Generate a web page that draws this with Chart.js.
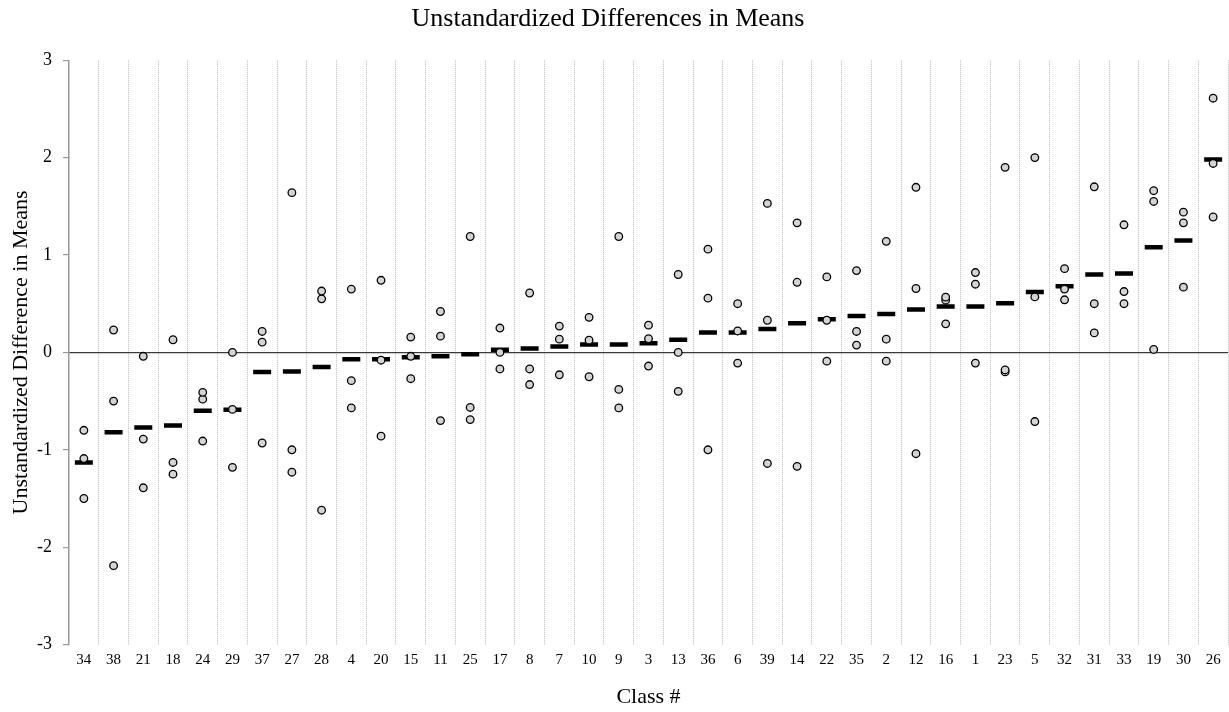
<!DOCTYPE html>
<html>
<head>
<meta charset="utf-8">
<script src="https://cdn.jsdelivr.net/npm/chart.js@4/dist/chart.umd.min.js"></script>
<style>
  html, body { margin: 0; padding: 0; background: #fff; }
  #wrap { width: 1229px; height: 712px; }
</style>
</head>
<body>
<div id="wrap"><canvas id="c" width="1229" height="712"></canvas></div>
<script>
// Classes, ordered by mean difference
const classes = ['34','38','21','18','24','29','37','27','28','4','20','15','11','25','17','8','7','10','9','3','13','36','6','39','14','22','35','2','12','16','1','23','5','32','31','33','19','30','26'];

// Mean unstandardized difference per class (black dash)
const meanDiff = [-1.13,-0.82,-0.77,-0.75,-0.60,-0.59,-0.20,-0.195,-0.15,-0.07,-0.07,-0.05,-0.04,-0.02,0.027,0.04,0.06,0.08,0.08,0.095,0.13,0.205,0.205,0.24,0.30,0.34,0.375,0.395,0.44,0.47,0.47,0.505,0.62,0.68,0.80,0.81,1.08,1.15,1.98];

// Individual differences per class (circles): highest, middle, lowest
const diffHigh = [-0.80,0.23,-0.04,0.13,-0.41,0.00,0.215,1.64,0.63,0.65,0.74,0.157,0.42,1.19,0.25,0.61,0.27,0.36,1.19,0.28,0.80,1.06,0.50,1.53,1.33,0.775,0.84,1.14,1.695,0.567,0.82,1.90,2.00,0.86,1.70,1.31,1.66,1.44,2.61];
const diffMid  = [-1.09,-0.50,-0.89,-1.13,-0.48,-0.585,0.105,-1.00,0.55,-0.29,-0.08,-0.04,0.167,-0.565,0.00,-0.17,0.136,0.126,-0.38,0.14,0.00,0.557,0.22,0.33,0.72,0.33,0.215,0.136,0.656,0.536,0.70,-0.18,0.57,0.65,0.50,0.625,1.55,1.33,1.94];
const diffLow  = [-1.50,-2.19,-1.39,-1.25,-0.91,-1.18,-0.93,-1.23,-1.62,-0.57,-0.86,-0.27,-0.70,-0.69,-0.17,-0.33,-0.23,-0.25,-0.57,-0.14,-0.40,-1.00,-0.11,-1.14,-1.17,-0.09,0.075,-0.09,-1.04,0.293,-0.11,-0.20,-0.71,0.54,0.20,0.50,0.03,0.67,1.39];

const yTicks = [-3,-2,-1,0,1,2,3];

const serif = "'Liberation Serif', 'Times New Roman', serif";

function circleSet(label, data) {
  return {
    label, data,
    showLine: false,
    pointStyle: 'circle',
    pointRadius: 3.8,
    pointHoverRadius: 3.8,
    pointBackgroundColor: '#d4d4d4',
    pointBorderColor: '#000',
    pointBorderWidth: 1.3,
    order: 1
  };
}

// Centre the chart title over the page area rather than the padded box
const titleShift = {
  id: 'titleShift',
  afterLayout(chart) {
    if (chart.titleBlock) {
      chart.titleBlock.right -= 20;
    }
  }
};

new Chart(document.getElementById('c'), {
  type: 'line',
  data: {
    labels: classes,
    datasets: [
      {
        label: 'Mean',
        data: meanDiff,
        showLine: false,
        pointStyle: 'line',
        pointRadius: 9,
        pointHoverRadius: 9,
        pointBorderColor: '#000',
        pointBackgroundColor: '#000',
        pointBorderWidth: 4.5,
        order: 2
      },
      circleSet('High', diffHigh),
      circleSet('Middle', diffMid),
      circleSet('Low', diffLow)
    ]
  },
  plugins: [titleShift],
  options: {
    responsive: false,
    animation: false,
    events: [],
    layout: { autoPadding: false, padding: { left: 8, right: 1, top: 0, bottom: 2 } },
    plugins: {
      legend: { display: false },
      tooltip: { enabled: false },
      title: {
        display: true,
        text: 'Unstandardized Differences in Means',
        color: '#000',
        font: { family: serif, size: 26, weight: 'normal', lineHeight: 1.2 },
        padding: { top: 4, bottom: 25 }
      }
    },
    scales: {
      x: {
        type: 'category',
        offset: true,
        grid: {
          offset: true,
          color: '#bdbdbd',
          lineWidth: 1,
          drawTicks: false
        },
        border: { display: false, dash: [1, 1] },
        ticks: {
          color: '#000',
          font: { family: serif, size: 15, lineHeight: 1.2 },
          padding: 6,
          maxRotation: 0,
          autoSkip: false
        },
        title: {
          display: true,
          text: 'Class #',
          color: '#000',
          font: { family: serif, size: 22, lineHeight: 1.2 },
          padding: { top: 9, bottom: 0 }
        }
      },
      y: {
        min: -3,
        max: 3,
        afterBuildTicks: (axis) => { axis.ticks = yTicks.map(v => ({ value: v })); },
        afterFit: (axis) => { axis.width = 61; },
        grid: {
          color: (ctx) => ctx.tick && ctx.tick.value === 0 ? '#3a3a3a' : 'rgba(0,0,0,0)',
          lineWidth: 1.2,
          drawTicks: true,
          tickLength: 6,
          tickColor: '#999'
        },
        border: { display: true, color: '#999', width: 1.3 },
        ticks: {
          color: '#000',
          font: { family: serif, size: 18 },
          padding: 11
        },
        title: {
          display: true,
          text: 'Unstandardized Difference in Means',
          color: '#000',
          font: { family: serif, size: 22, lineHeight: 1.2 },
          padding: { top: 0, bottom: 2 }
        }
      }
    }
  }
});
</script>
</body>
</html>
